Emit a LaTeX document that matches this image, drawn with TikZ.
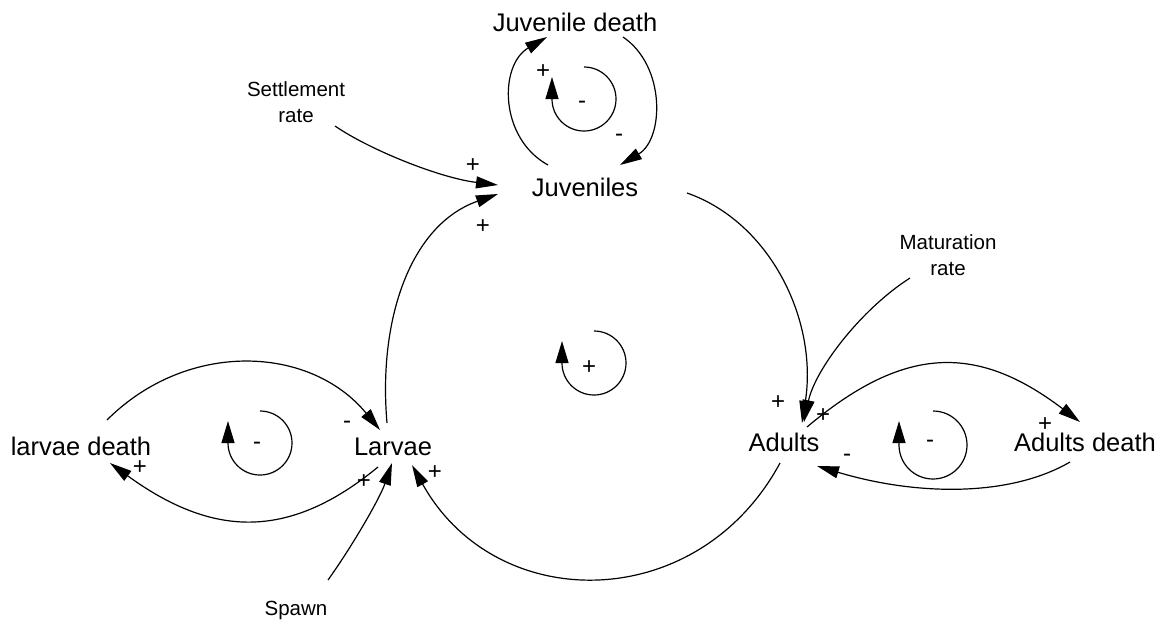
\documentclass[tikz,border=0pt]{standalone}
\usepackage{fontspec}
\setmainfont{Liberation Sans}
\usetikzlibrary{arrows.meta,calc}
\begin{document}
\begin{tikzpicture}[x=1pt,y=-1pt,
  big/.style={font=\fontsize{25.5}{30}\selectfont, inner sep=0pt, anchor=base},
  small/.style={font=\fontsize{20.5}{25.5}\selectfont, inner sep=0pt, align=center},
  sign/.style={font=\fontsize{24}{28}\selectfont, inner sep=0pt},
  link/.style={line width=1.2pt, -{Triangle[length=22pt,width=12pt]}},
  loopar/.style={line width=1.2pt, -{Triangle[length=22pt,width=13pt]}}]
\fill[white] (0,0) rectangle (1164,622);
\path[use as bounding box] (0,0) rectangle (1164,622);

% nodes
\node[big] (jd)  at (575,31)  {Juvenile death};
\node[big] (juv) at (585,196) {Juveniles};
\node[big] (lar) at (393,455) {Larvae};
\node[big] (ld)  at (81,455)  {larvae death};
\node[big] (ad)  at (784,451) {Adults};
\node[big] (add) at (1085,451) {Adults death};
\node[small] (set) at (296,102) {Settlement\\rate};
\node[small] (mat) at (948,255) {Maturation\\rate};
\node[small, anchor=base] (sp) at (296,615) {Spawn};

% connectors
\draw[link] ($(set.center)+(39,24)$) .. controls (370,150) and (440,178) .. ($(juv.base)+(-87,-11)$);
\draw[link] ($(lar.base)+(-6,-32)$) .. controls (378,320) and (410,225) .. ($(juv.base)+(-87,-2)$);
\draw[link] ($(juv.base)+(102,-3)$) .. controls (770,222) and (818,320) .. ($(ad.base)+(18,-28)$);
\draw[link] ($(mat.center)+(-38,23)$) .. controls (860,310) and (815,370) .. ($(ad.base)+(20,-29)$);
\draw[link] ($(ad.base)+(-4,12)$) .. controls (698,615) and (496,616) .. ($(lar.base)+(19,10)$);
\draw[link] ($(lar.base)+(-15,12)$) .. controls (288,541) and (212,537) .. ($(ld.base)+(29,8)$);
\draw[link] ($(ld.base)+(26,-35)$) .. controls (187,340) and (310,345) .. ($(lar.base)+(-13,-25)$);
\draw[link] ($(ad.base)+(23,-24)$) .. controls (902,347) and (975,342) .. ($(add.base)+(-5,-29)$);
\draw[link] ($(add.base)+(-15,11)$) .. controls (1010,497) and (917,496) .. ($(ad.base)+(33,15)$);
\draw[link] ($(juv.base)+(-37,-31)$) .. controls (499,138) and (499,65) .. ($(jd.base)+(-28,6)$);
\draw[link] ($(jd.base)+(48,6)$) .. controls (666,66) and (664,139) .. ($(juv.base)+(35,-31)$);
\draw[link] ($(sp.base)+(32,-35)$) .. controls (353,545) and (380,498) .. ($(lar.base)+(-1,8)$);

% loop symbols
\draw[loopar] (584,67) arc[start angle=90, end angle=-180, radius=32pt] -- ++(0,-22);
\draw[loopar] (594,331) arc[start angle=90, end angle=-180, radius=32pt] -- ++(0,-22);
\draw[loopar] (260,411) arc[start angle=90, end angle=-180, radius=32pt] -- ++(0,-22);
\draw[loopar] (933,411) arc[start angle=90, end angle=-180, radius=34pt] -- ++(0,-24);

% polarity signs
\node[sign] (s1)  at (473,166) {+};
\node[sign] (s2)  at (483,227) {+};
\node[sign] (s3)  at (543,72)  {+};
\node[sign] (s4)  at (619,138) {-};
\node[sign] (s5)  at (582,105) {-};
\node[sign] (s6)  at (589,368) {+};
\node[sign] (s7)  at (778,403) {+};
\node[sign] (s8)  at (823,416) {+};
\node[sign] (s9)  at (1045,425) {+};
\node[sign] (s10) at (847,458) {-};
\node[sign] (s11) at (930,444) {-};
\node[sign] (s12) at (347,425) {-};
\node[sign] (s13) at (257,446) {-};
\node[sign] (s14) at (140,468) {+};
\node[sign] (s15) at (364,482) {+};
\node[sign] (s16) at (435,473) {+};
\end{tikzpicture}
\end{document}
